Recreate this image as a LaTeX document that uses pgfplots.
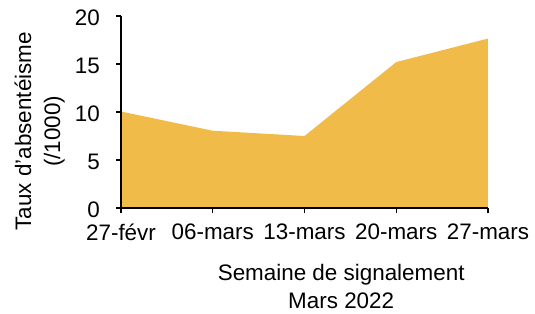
\documentclass[border=0pt]{standalone}
\usepackage{pgfplots}
\pgfplotsset{compat=1.18}
\usepackage{fontspec}
\setmainfont{Liberation Sans}
\definecolor{areaC}{HTML}{F0BB48}
\begin{document}
\fontsize{22.5}{27}\selectfont
\begin{tikzpicture}
\begin{axis}[
  scale only axis, width=367bp, height=192bp,
  xmin=0, xmax=4, ymin=0, ymax=20,
  axis x line=bottom, axis y line=left,
  axis line style={-, black, line width=1.2pt},
  axis on top,
  tick align=outside, major tick length=5bp,
  tick style={black, line width=1.2pt},
  xtick={0,1,2,3,4},
  xticklabels={27-févr,06-mars,13-mars,20-mars,27-mars},
  ytick={0,5,10,15,20},
  /pgf/number format/assume math mode=true,
  tick label style={font=\fontsize{22.5}{27}\selectfont},
  yticklabel style={inner sep=0pt, xshift=-16bp, yshift=-1.5bp},
  xticklabel style={inner sep=0pt, yshift=-11bp},
  xlabel={Semaine de signalement\\Mars 2022},
  xlabel style={font=\fontsize{22.5}{28}\selectfont, align=center, inner sep=0pt,
    at={(axis description cs:0.6,0)}, anchor=north, yshift=-56bp},
  ylabel={Taux d'absentéisme\\(/1000)},
  ylabel style={font=\fontsize{22.5}{29}\selectfont, align=center, inner sep=0pt,
    at={(axis description cs:-0.153,0.4)}, anchor=south},
]
\addplot[draw=none, fill=areaC] coordinates {(0,10.05) (1,8.05) (2,7.5) (3,15.2) (4,17.65)} \closedcycle;
\coordinate (ll) at (rel axis cs:0,0);
\end{axis}
\pgfresetboundingbox
\path[use as bounding box] ([xshift=-121bp,yshift=-106bp]ll) rectangle ([xshift=414bp,yshift=208bp]ll);
\end{tikzpicture}
\end{document}
